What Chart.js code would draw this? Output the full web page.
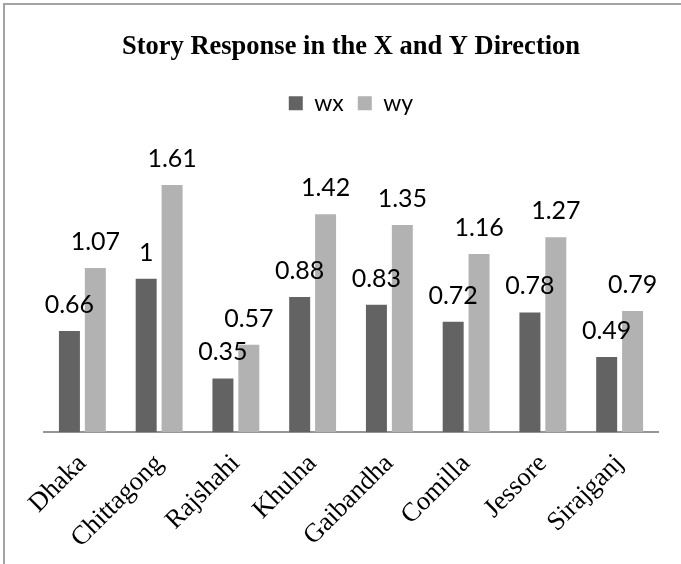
<!DOCTYPE html>
<html>
<head>
<meta charset="utf-8">
<script src="https://cdn.jsdelivr.net/npm/chart.js@4/dist/chart.umd.min.js"></script>
<style>
  html, body { margin: 0; padding: 0; background: #fff; }
  #wrap { position: relative; width: 681px; height: 564px; }
  #frame {
    position: absolute; left: 3px; top: 3px; right: 0; bottom: 0;
    border-left: 2px solid #a3a3a3; border-top: 2px solid #a3a3a3;
  }
  #chrt { position: absolute; left: 0; top: 0; }
</style>
</head>
<body>
<div id="wrap">
  <div id="frame"></div>
  <canvas id="chrt" width="681" height="564"></canvas>
</div>
<script>
const CITIES = ["Dhaka", "Chittagong", "Rajshahi", "Khulna", "Gaibandha", "Comilla", "Jessore", "Sirajganj"];
const WX = [0.66, 1, 0.35, 0.88, 0.83, 0.72, 0.78, 0.49];
const WY = [1.07, 1.61, 0.57, 1.42, 1.35, 1.16, 1.27, 0.79];
const Y_MIN = 0;
const Y_MAX = 1.8;

const LBL_FONT = "Lato, 'Open Sans', sans-serif";
const SERIF = "'Liberation Serif', 'Times New Roman', serif";

// etiquetas encima de cada barra
const barLabels = {
  id: "barLabels",
  afterDatasetsDraw(chart) {
    const ctx = chart.ctx;
    ctx.save();
    ctx.font = "25px " + LBL_FONT;
    ctx.fillStyle = "#000";
    ctx.textAlign = "center";
    ctx.textBaseline = "alphabetic";
    chart.data.datasets.forEach((ds, i) => {
      const meta = chart.getDatasetMeta(i);
      meta.data.forEach((bar, j) => {
        ctx.fillText(String(ds.data[j]), bar.x, bar.y - 18);
      });
    });
    ctx.restore();
  },
};

// hueco extra bajo la leyenda
const legendGap = {
  id: "legendGap",
  beforeInit(chart) {
    const fit = chart.legend.fit;
    chart.legend.fit = function () {
      fit.bind(chart.legend)();
      this.height += 31;
    };
  },
};

new Chart(document.getElementById("chrt"), {
  type: "bar",
  data: {
    labels: CITIES,
    datasets: [
      { label: "wx", data: WX, backgroundColor: "#636363" },
      { label: "wy", data: WY, backgroundColor: "#b2b2b2" },
    ],
  },
  options: {
    responsive: false,
    animation: false,
    categoryPercentage: 0.675,
    barPercentage: 0.81,
    layout: { padding: { left: 44, right: 23, top: 31, bottom: 3 } },
    scales: {
      x: {
        grid: { display: false, drawTicks: false },
        border: { display: true, color: "#959595", width: 2 },
        ticks: {
          color: "#000",
          font: { family: SERIF, size: 26.5 },
          minRotation: 45,
          maxRotation: 45,
          padding: 16,
        },
        afterFit: (s) => { s.height -= 9; },
      },
      y: { display: false, min: Y_MIN, max: Y_MAX },
    },
    plugins: {
      title: {
        display: true,
        text: "Story Response in the X and Y Direction",
        color: "#000",
        font: { family: SERIF, size: 26.5, weight: "bold" },
        padding: { top: 0, bottom: 15 },
      },
      legend: {
        display: true,
        labels: {
          color: "#000",
          boxWidth: 14,
          boxHeight: 14,
          padding: 14,
          font: { family: LBL_FONT, size: 23 },
        },
      },
      tooltip: { enabled: false },
    },
  },
  plugins: [barLabels, legendGap],
});
</script>
</body>
</html>
